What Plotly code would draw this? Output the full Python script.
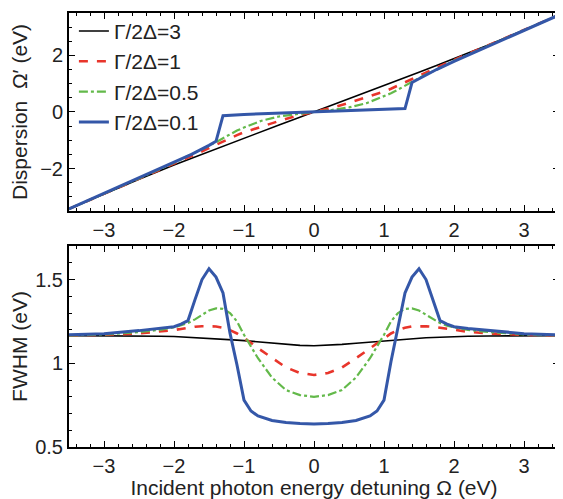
import plotly.graph_objects as go
from plotly.subplots import make_subplots

# ---- data: dispersion (top panel) ----
x_top = [-3.5, -3, -2.5, -2, -1.75, -1.5, -1.4, -1.3, -1.2, -1.1, -1, -0.75, -0.5, -0.25, 0,
         0.25, 0.5, 0.75, 1, 1.1, 1.2, 1.3, 1.4, 1.5, 1.75, 2, 2.5, 3, 3.5]
disp_g3 = [-3.43, -2.9, -2.38, -1.88, -1.64, -1.40, -1.31, -1.21, -1.12, -1.02, -0.93, -0.69, -0.46, -0.23, 0,
           0.23, 0.46, 0.69, 0.93, 1.02, 1.12, 1.21, 1.31, 1.40, 1.64, 1.88, 2.38, 2.9, 3.43]
disp_g1 = [-3.43, -2.9, -2.36, -1.84, -1.56, -1.28, -1.16, -1.05, -0.93, -0.82, -0.72, -0.51, -0.32, -0.14, 0,
           0.14, 0.32, 0.51, 0.72, 0.82, 0.93, 1.05, 1.16, 1.28, 1.56, 1.84, 2.36, 2.9, 3.43]
disp_g05 = [-3.43, -2.9, -2.35, -1.8, -1.5, -1.2, -1.07, -0.93, -0.79, -0.66, -0.55, -0.31, -0.16, -0.07, 0,
            0.07, 0.16, 0.31, 0.55, 0.66, 0.79, 0.93, 1.07, 1.2, 1.5, 1.8, 2.35, 2.9, 3.43]
disp_g01 = [-3.43, -2.88, -2.33, -1.79, -1.5, -1.18, -1.04, -0.13, -0.11, -0.10, -0.09, -0.065, -0.045, -0.02, 0,
            0.02, 0.045, 0.065, 0.09, 0.10, 0.11, 0.12, 1.04, 1.18, 1.5, 1.79, 2.33, 2.88, 3.43]

# ---- data: FWHM (bottom panel) ----
x_bot = [-3.5, -3, -2.5, -2.2, -2, -1.9, -1.8, -1.7, -1.6, -1.5, -1.4, -1.3, -1.2, -1.1, -1, -0.9, -0.8, -0.6, -0.4, -0.2, 0,
         0.2, 0.4, 0.6, 0.8, 0.9, 1, 1.1, 1.2, 1.3, 1.4, 1.5, 1.6, 1.7, 1.8, 1.9, 2, 2.2, 2.5, 3, 3.5]
fwhm_g3 = [1.165, 1.165, 1.163, 1.161, 1.16, 1.158, 1.156, 1.154, 1.152, 1.15, 1.147, 1.144, 1.141, 1.138, 1.135, 1.131, 1.127, 1.12, 1.113, 1.107, 1.105,
           1.107, 1.113, 1.12, 1.127, 1.131, 1.135, 1.138, 1.141, 1.144, 1.147, 1.15, 1.152, 1.154, 1.156, 1.158, 1.16, 1.161, 1.163, 1.165, 1.165]
fwhm_g1 = [1.167, 1.17, 1.178, 1.188, 1.198, 1.205, 1.212, 1.218, 1.221, 1.222, 1.22, 1.212, 1.198, 1.178, 1.152, 1.122, 1.09, 1.03, 0.975, 0.942, 0.93,
           0.942, 0.975, 1.03, 1.09, 1.122, 1.152, 1.178, 1.198, 1.212, 1.22, 1.222, 1.221, 1.218, 1.212, 1.205, 1.198, 1.188, 1.178, 1.17, 1.167]
fwhm_g05 = [1.167, 1.172, 1.186, 1.2, 1.214, 1.225, 1.24, 1.262, 1.29, 1.315, 1.328, 1.325, 1.30, 1.25, 1.17, 1.10, 1.03, 0.915, 0.84, 0.81, 0.80,
            0.81, 0.84, 0.915, 1.03, 1.10, 1.17, 1.25, 1.30, 1.325, 1.328, 1.315, 1.29, 1.262, 1.24, 1.225, 1.214, 1.2, 1.186, 1.172, 1.167]
fwhm_g01 = [1.17, 1.177, 1.195, 1.207, 1.218, 1.234, 1.255, 1.38, 1.50, 1.565, 1.515, 1.42, 1.18, 0.99, 0.78, 0.715, 0.685, 0.658, 0.646, 0.64, 0.637,
            0.64, 0.646, 0.658, 0.685, 0.715, 0.78, 1.01, 1.22, 1.42, 1.515, 1.565, 1.50, 1.38, 1.255, 1.234, 1.218, 1.207, 1.195, 1.177, 1.17]

names = ["Γ/2Δ=3", "Γ/2Δ=1", "Γ/2Δ=0.5", "Γ/2Δ=0.1"]
colors = ["#000000", "#e8352b", "#63b94a", "#3457a8"]
dashes = ["solid", "dash", "dashdot", "solid"]
widths = [1.6, 2.6, 2.2, 3]
x_ticks = [-3, -2, -1, 0, 1, 2, 3]

fig = make_subplots(rows=2, cols=1, vertical_spacing=0.08)

top_series = [disp_g3, disp_g1, disp_g05, disp_g01]
bot_series = [fwhm_g3, fwhm_g1, fwhm_g05, fwhm_g01]
for i in range(4):
    fig.add_trace(go.Scatter(x=x_top, y=top_series[i], mode="lines", name=names[i],
                             line=dict(color=colors[i], dash=dashes[i], width=widths[i]),
                             showlegend=True), row=1, col=1)
for i in range(4):
    fig.add_trace(go.Scatter(x=x_bot, y=bot_series[i], mode="lines", name=names[i],
                             line=dict(color=colors[i], dash=dashes[i], width=widths[i]),
                             showlegend=False), row=2, col=1)

font_family = "Liberation Sans, Arial, Helvetica, sans-serif"
axis_common = dict(showline=True, linecolor="black", linewidth=2, mirror="ticks",
                   ticks="inside", ticklen=6, tickwidth=1, tickcolor="black",
                   showgrid=False, zeroline=False,
                   tickfont=dict(size=20, color="#222"))

fig.update_xaxes(range=[-3.5, 3.5], tickvals=x_ticks,
                 minor=dict(dtick=0.2, ticks="inside", ticklen=3, tickcolor="black"),
                 **axis_common)
fig.update_xaxes(domain=[0, 1], row=1, col=1)
fig.update_xaxes(domain=[0, 1], row=2, col=1,
                 title=dict(text="Incident photon energy detuning Ω (eV)", font=dict(size=21, color="#222"), standoff=3))

fig.update_yaxes(range=[-3.5, 3.5], tickvals=[-2, 0, 2], domain=[0.544, 1],
                 minor=dict(dtick=0.5, ticks="inside", ticklen=3, tickcolor="black"),
                 title=dict(text="Dispersion  Ω′ (eV)", font=dict(size=21, color="#222"), standoff=10),
                 row=1, col=1, **axis_common)
fig.update_yaxes(range=[0.5, 1.7], tickvals=[0.5, 1, 1.5], domain=[0, 0.463],
                 minor=dict(dtick=0.1, ticks="inside", ticklen=3, tickcolor="black"),
                 title=dict(text="FWHM (eV)", font=dict(size=21, color="#222"), standoff=10),
                 row=2, col=1, **axis_common)

# page body has an 8px default margin, so the figure is 8px smaller than the window
fig.update_layout(
    width=555, height=491,
    margin=dict(l=61, r=2, t=5, b=52),
    paper_bgcolor="white", plot_bgcolor="white",
    font=dict(family=font_family, color="#222"),
    legend=dict(x=0.01, y=1.005, xanchor="left", yanchor="top",
                bgcolor="rgba(0,0,0,0)", font=dict(size=21, color="#222"),
                tracegroupgap=0, itemwidth=30),
)

fig.write_html("out.html")
